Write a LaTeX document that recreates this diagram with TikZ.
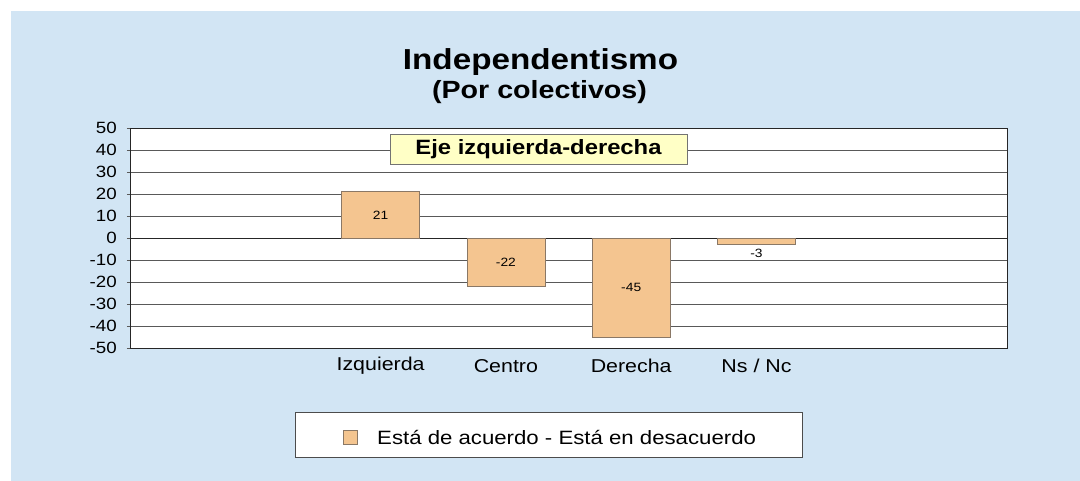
\documentclass[tikz,border=0pt]{standalone}
\usepackage{fontspec}
\setmainfont{Liberation Sans}[FakeStretch=1.15]
\usetikzlibrary{positioning}

\definecolor{bgblue}{HTML}{D2E5F4}
\definecolor{barfill}{HTML}{F4C590}
\definecolor{barline}{HTML}{8A7866}
\definecolor{boxyellow}{HTML}{FFFFC6}

\begin{document}
\begin{tikzpicture}[x=1pt,y=1pt,
 bar/.style={draw=barline,fill=barfill,semithick},
 grid/.style={draw=black!65,semithick},
 tick/.style={left=10pt,inner sep=0pt,font=\fontsize{16.3}{16}\selectfont},
 cat/.style={inner sep=0pt,font=\fontsize{18.6}{18}\selectfont},
 val/.style={inner sep=0pt,font=\fontsize{12}{12}\selectfont}]

\useasboundingbox (0,0) rectangle (1080,481);
\fill[bgblue] (11,0) rectangle (1080,470);

%title
\node[inner sep=0pt,font=\fontsize{28.9}{30}\bfseries\selectfont] (title) at (540.5,419) {Independentismo};
\node[inner sep=0pt,font=\fontsize{24.9}{26}\bfseries\selectfont] (subtitle) at (539.5,389) {(Por colectivos)};

%plot
\begin{scope}[shift={(130,243)},x=125.3pt,y=2.2pt]
\fill[white] (0,-50) rectangle (7,50);
\draw[grid] (-0.024,50) node[tick] (t50) {50} -- (7,50);
\draw[grid] (-0.024,40) node[tick] (t40) {40} -- (7,40);
\draw[grid] (-0.024,30) node[tick] (t30) {30} -- (7,30);
\draw[grid] (-0.024,20) node[tick] (t20) {20} -- (7,20);
\draw[grid] (-0.024,10) node[tick] (t10) {10} -- (7,10);
\draw[grid] (-0.024,0) node[tick] (t0) {0} -- (7,0);
\draw[grid] (-0.024,-10) node[tick] (tm10) {-10} -- (7,-10);
\draw[grid] (-0.024,-20) node[tick] (tm20) {-20} -- (7,-20);
\draw[grid] (-0.024,-30) node[tick] (tm30) {-30} -- (7,-30);
\draw[grid] (-0.024,-40) node[tick] (tm40) {-40} -- (7,-40);
\draw[grid] (-0.024,-50) node[tick] (tm50) {-50} -- (7,-50);
\draw[black!85,semithick] (0,-50) rectangle (7,50);
\draw[black!85,semithick] (0,0) -- (7,0);

%bars
\draw[bar] (1.689,0) rectangle (2.311,21);
\draw[bar] (2.689,0) rectangle (3.311,-22);
\draw[bar] (3.689,0) rectangle (4.311,-45);
\draw[bar] (4.689,0) rectangle (5.311,-3);
\node[val] (v1) at (2,10.5) {21};
\node[val] (v2) at (3,-11) {-22};
\node[val] (v3) at (4,-22.5) {-45};
\node[val] (v4) at (5,-6.8) {-3};

%categories
\node[cat] (izq) at (2,-58.2) {Izquierda};
\node[cat] (cen) at (3,-58.2) {Centro};
\node[cat] (der) at (4,-58.2) {Derecha};
\node[cat] (nsnc) at (5,-58.2) {Ns / Nc};
\end{scope}

\node[draw=black!55,fill=boxyellow,semithick,minimum width=297pt,minimum height=30pt,inner sep=0pt,
 font=\fontsize{20.7}{20}\bfseries\selectfont] (eje) at (538.5,332) {Eje izquierda-derecha};

%legend
\node[draw=black!70,fill=white,semithick,minimum width=507pt,minimum height=45pt] (legend) at (548.5,46.5) {};
\node[draw=barline,fill=barfill,minimum size=14pt,inner sep=0pt] (key) at (350,44) {};
\node[anchor=west,inner sep=0pt,font=\fontsize{19.3}{19}\selectfont] (keytext) at (377,44) {Está de acuerdo - Está en desacuerdo};

\end{tikzpicture}
\end{document}
